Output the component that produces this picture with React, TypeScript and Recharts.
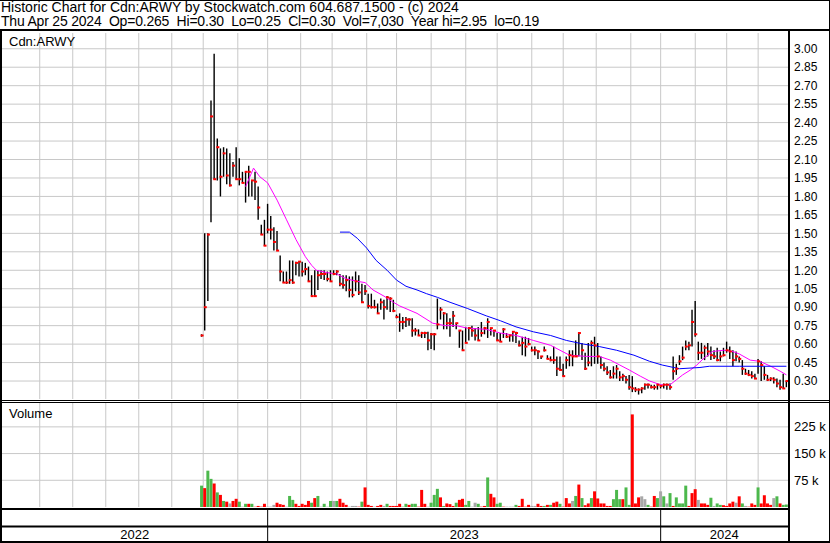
import React from "react";
import {
  Bar,
  BarChart,
  CartesianGrid,
  Cell,
  ComposedChart,
  Line,
  ReferenceLine,
  Scatter,
  XAxis,
  YAxis,
} from "recharts";

const FONT = '"Liberation Sans", Arial, sans-serif';

// x axis is counted in trading sessions from the left edge of the chart
const LAST_SLOT = 500;
const FIRST_DAY = 127;
const DAY_STEP = 2;

const monthStarts = [24, 45, 66, 87, 108, 128, 150, 169, 190, 210, 232, 251, 273, 295, 315, 337, 357, 378, 400, 419, 441, 461, 481];
const yearStarts = [0, 169, 419];
const yearLabels = ["2022", "2023", "2024"];

const priceTicks = [0.3, 0.45, 0.6, 0.75, 0.9, 1.05, 1.2, 1.35, 1.5, 1.65, 1.8, 1.95, 2.1, 2.25, 2.4, 2.55, 2.7, 2.85, 3.0];
const volumeTicks = [75000, 150000, 225000];

const highs = [
  0.68, 1.5, 1.5, 2.58, 2.96, 2.27, 2.19, 2.2, 2.19, 2.15,
  2.08, 2.2, 2.11, 2.0, 2.0, 2.05, 1.93, 2.0, 1.88, 1.57,
  1.61, 1.74, 1.64, 1.55, 1.52, 1.32, 1.19, 1.19, 1.28, 1.28,
  1.27, 1.27, 1.27, 1.26, 1.23, 1.16, 1.2, 1.2, 1.2, 1.2,
  1.19, 1.2, 1.2, 1.2, 1.17, 1.16, 1.16, 1.15, 1.15, 1.19,
  1.16, 1.09, 1.08, 1.01, 1.01, 0.96, 0.93, 0.97, 0.96, 0.99,
  0.98, 0.96, 0.84, 0.85, 0.82, 0.82, 0.81, 0.81, 0.73, 0.72,
  0.7, 0.7, 0.7, 0.69, 0.69, 0.97, 0.9, 0.86, 0.85, 0.81,
  0.87, 0.77, 0.71, 0.71, 0.74, 0.74, 0.75, 0.73, 0.74, 0.78,
  0.74, 0.81, 0.73, 0.71, 0.69, 0.69, 0.73, 0.69, 0.68, 0.7,
  0.7, 0.63, 0.66, 0.66, 0.65, 0.58, 0.58, 0.55, 0.5, 0.58,
  0.51, 0.5, 0.58, 0.5, 0.5, 0.44, 0.5, 0.55, 0.55, 0.63,
  0.69, 0.61, 0.53, 0.61, 0.63, 0.66, 0.61, 0.5, 0.45, 0.42,
  0.39, 0.42, 0.43, 0.38, 0.36, 0.34, 0.35, 0.34, 0.25, 0.24,
  0.25, 0.28, 0.28, 0.27, 0.27, 0.28, 0.27, 0.28, 0.28, 0.28,
  0.5, 0.44, 0.51, 0.58, 0.63, 0.62, 0.88, 0.95, 0.62, 0.61,
  0.59, 0.61, 0.58, 0.55, 0.57, 0.54, 0.57, 0.62, 0.58, 0.55,
  0.54, 0.5, 0.47, 0.4, 0.39, 0.38, 0.36, 0.48, 0.46, 0.42,
  0.35, 0.33, 0.33, 0.32, 0.31, 0.36, 0.3,
];

const lows = [
  0.66, 0.71, 0.95, 1.59, 1.94, 1.93, 1.8, 1.96, 1.9, 1.88,
  1.96, 1.94, 1.89, 1.91, 1.75, 1.8, 1.8, 1.77, 1.61, 1.49,
  1.4, 1.5, 1.45, 1.36, 1.36, 1.11, 1.1, 1.09, 1.09, 1.09,
  1.16, 1.15, 1.15, 1.16, 1.11, 0.99, 0.99, 1.04, 1.13, 1.12,
  1.11, 1.11, 1.16, 1.16, 1.07, 1.05, 1.03, 0.98, 0.98, 1.03,
  1.0, 0.94, 1.0, 0.89, 0.89, 0.89, 0.85, 0.88, 0.8, 0.88,
  0.86, 0.86, 0.81, 0.7, 0.72, 0.74, 0.75, 0.66, 0.67, 0.67,
  0.65, 0.65, 0.55, 0.56, 0.55, 0.72, 0.8, 0.72, 0.72, 0.66,
  0.74, 0.72, 0.57, 0.55, 0.61, 0.63, 0.66, 0.63, 0.63, 0.66,
  0.68, 0.65, 0.67, 0.66, 0.63, 0.62, 0.65, 0.65, 0.62, 0.62,
  0.61, 0.58, 0.51, 0.5, 0.59, 0.54, 0.51, 0.48, 0.48, 0.54,
  0.48, 0.46, 0.44, 0.34, 0.39, 0.34, 0.4, 0.42, 0.42, 0.5,
  0.5, 0.47, 0.39, 0.42, 0.42, 0.44, 0.44, 0.4, 0.38, 0.35,
  0.32, 0.32, 0.32, 0.3, 0.3, 0.28, 0.23, 0.21, 0.21, 0.19,
  0.2, 0.23, 0.24, 0.24, 0.23, 0.23, 0.24, 0.24, 0.23, 0.23,
  0.31, 0.35, 0.43, 0.47, 0.55, 0.55, 0.58, 0.66, 0.47, 0.48,
  0.47, 0.5, 0.47, 0.48, 0.46, 0.46, 0.5, 0.53, 0.48, 0.42,
  0.46, 0.45, 0.35, 0.35, 0.34, 0.32, 0.32, 0.36, 0.3, 0.31,
  0.3, 0.3, 0.28, 0.25, 0.23, 0.24, 0.25,
];

const closes = [
  0.67, 0.9, 1.49, 2.45, 1.94, 2.2, 1.96, 2.15, 1.97, 1.89,
  2.05, 1.94, 1.94, 1.91, 2.0, 2.0, 1.93, 1.92, 1.71, 1.49,
  1.4, 1.53, 1.53, 1.43, 1.36, 1.19, 1.1, 1.1, 1.12, 1.1,
  1.26, 1.27, 1.19, 1.21, 1.11, 0.99, 0.99, 1.16, 1.17, 1.17,
  1.13, 1.11, 1.17, 1.19, 1.09, 1.08, 1.12, 1.04, 1.0, 1.11,
  1.02, 0.94, 1.03, 0.91, 0.9, 0.9, 0.85, 0.94, 0.9, 0.98,
  0.97, 0.87, 0.82, 0.78, 0.78, 0.8, 0.8, 0.71, 0.71, 0.67,
  0.69, 0.69, 0.63, 0.68, 0.68, 0.76, 0.88, 0.85, 0.77, 0.77,
  0.83, 0.77, 0.71, 0.55, 0.61, 0.73, 0.71, 0.67, 0.63, 0.69,
  0.73, 0.78, 0.73, 0.71, 0.63, 0.62, 0.72, 0.66, 0.67, 0.7,
  0.69, 0.59, 0.61, 0.58, 0.6, 0.55, 0.55, 0.54, 0.5, 0.55,
  0.48, 0.47, 0.47, 0.4, 0.39, 0.34, 0.47, 0.51, 0.5, 0.5,
  0.69, 0.55, 0.4, 0.45, 0.61, 0.59, 0.5, 0.43, 0.4, 0.37,
  0.33, 0.36, 0.4, 0.33, 0.34, 0.31, 0.25, 0.24, 0.23, 0.23,
  0.24, 0.27, 0.27, 0.25, 0.25, 0.27, 0.26, 0.27, 0.27, 0.25,
  0.38, 0.4, 0.46, 0.49, 0.58, 0.59, 0.78, 0.68, 0.53, 0.53,
  0.57, 0.54, 0.51, 0.5, 0.47, 0.5, 0.51, 0.55, 0.54, 0.47,
  0.5, 0.48, 0.4, 0.36, 0.35, 0.34, 0.32, 0.46, 0.43, 0.35,
  0.31, 0.32, 0.31, 0.28, 0.25, 0.24, 0.3,
];

// thousands of shares
const volumesK = [
  60, 53, 102, 79, 66, 41, 34, 17, 15, 10,
  17, 23, 15, 1, 9, 9, 9, 1, 3, 1,
  9, 1, 1, 6, 12, 8, 6, 1, 31, 20,
  9, 3, 9, 6, 17, 12, 25, 31, 1, 9,
  1, 17, 17, 17, 23, 12, 6, 1, 3, 3,
  1, 15, 55, 6, 3, 1, 3, 6, 3, 9,
  3, 3, 3, 9, 1, 9, 6, 9, 9, 1,
  48, 9, 1, 12, 34, 51, 27, 3, 10, 8,
  3, 12, 20, 23, 6, 17, 1, 12, 9, 1,
  3, 83, 37, 27, 9, 12, 1, 1, 1, 1,
  6, 3, 23, 1, 6, 3, 3, 9, 3, 3,
  6, 6, 12, 15, 9, 1, 25, 10, 17, 31,
  63, 25, 5, 10, 25, 44, 24, 10, 10, 3,
  3, 22, 48, 22, 22, 55, 6, 260, 10, 27,
  30, 22, 6, 1, 31, 25, 44, 30, 10, 39,
  3, 27, 10, 10, 60, 3, 39, 50, 20, 10,
  10, 6, 26, 3, 10, 6, 5, 3, 10, 15,
  12, 30, 10, 3, 1, 10, 6, 55, 10, 33,
  10, 6, 25, 30, 10, 6, 7,
];

// G = up, R = down, Y = unchanged
const volumeTone = [
  "G", "R", "G", "G", "R", "G", "R", "G", "R", "Y",
  "R", "R", "G", "Y", "G", "R", "G", "R", "R", "R",
  "R", "Y", "Y", "Y", "R", "R", "R", "Y", "G", "G",
  "R", "R", "R", "R", "R", "G", "R", "G", "Y", "G",
  "Y", "G", "Y", "G", "R", "R", "R", "Y", "Y", "Y",
  "R", "G", "R", "R", "R", "Y", "R", "R", "Y", "G",
  "R", "R", "R", "R", "G", "G", "R", "G", "G", "R",
  "R", "R", "Y", "G", "G", "G", "R", "G", "R", "R",
  "R", "G", "R", "R", "G", "G", "Y", "Y", "G", "R",
  "R", "G", "R", "R", "G", "G", "R", "Y", "Y", "Y",
  "G", "R", "R", "R", "R", "Y", "Y", "R", "R", "G",
  "R", "G", "R", "R", "G", "R", "R", "R", "Y", "G",
  "R", "G", "R", "R", "G", "R", "R", "R", "R", "R",
  "R", "G", "G", "G", "R", "G", "G", "R", "R", "R",
  "Y", "Y", "G", "R", "R", "G", "Y", "G", "Y", "G",
  "R", "G", "G", "G", "G", "R", "R", "R", "Y", "R",
  "R", "R", "G", "Y", "G", "G", "R", "R", "R", "R",
  "Y", "R", "G", "Y", "R", "R", "R", "G", "R", "R",
  "R", "R", "Y", "G", "R", "G", "G",
];

const fastMaDay = [155, 160, 164, 169, 175, 181, 187, 193, 197, 200, 207, 213, 219, 226, 231, 236, 243, 249, 253, 264, 274, 282, 289, 296, 308, 317, 327, 338, 349, 355, 361, 372, 380, 387, 393, 399, 406, 412, 419, 425, 429, 433, 438, 442, 446, 452, 459, 465, 469, 476, 482, 489, 495, 499];
const fastMaValue = [1.88, 2.03, 1.96, 1.91, 1.77, 1.61, 1.45, 1.31, 1.24, 1.2, 1.18, 1.17, 1.13, 1.11, 1.1, 1.04, 0.99, 0.94, 0.91, 0.85, 0.77, 0.75, 0.75, 0.73, 0.72, 0.69, 0.67, 0.63, 0.59, 0.55, 0.51, 0.5, 0.5, 0.47, 0.43, 0.39, 0.34, 0.3, 0.27, 0.27, 0.31, 0.35, 0.39, 0.43, 0.48, 0.54, 0.55, 0.54, 0.52, 0.47, 0.46, 0.42, 0.38, 0.35];

const slowMaDay = [215, 221, 226, 232, 238, 245, 251, 257, 264, 270, 277, 285, 296, 308, 317, 327, 338, 349, 359, 370, 380, 391, 402, 412, 420, 431, 444, 450, 469, 499];
const slowMaValue = [1.51, 1.51, 1.46, 1.38, 1.28, 1.2, 1.12, 1.07, 1.04, 1.01, 0.98, 0.94, 0.89, 0.83, 0.79, 0.74, 0.7, 0.67, 0.63, 0.6, 0.58, 0.55, 0.51, 0.46, 0.43, 0.4, 0.41, 0.42, 0.42, 0.42];

const titleLine = "Historic Chart for Cdn:ARWY by Stockwatch.com 604.687.1500 - (c) 2024";
const quoteLine = "Thu Apr 25 2024  Op=0.265  Hi=0.30  Lo=0.25  Cl=0.30  Vol=7,030  Year hi=2.95  lo=0.19";

const toneColor: Record<string, string> = { G: "#4cb84c", R: "#ff0000", Y: "#a8a8a8" };

const bars = highs.map((h, i) => ({
  x: FIRST_DAY + i * DAY_STEP,
  hi: h,
  lo: lows[i],
  close: closes[i],
}));
const volumes = volumesK.map((v, i) => ({
  x: FIRST_DAY + i * DAY_STEP,
  v: v * 1000,
  tone: volumeTone[i],
}));
const fastMa = fastMaDay.map((d, i) => ({ x: d, v: fastMaValue[i] }));
const slowMa = slowMaDay.map((d, i) => ({ x: d, v: slowMaValue[i] }));
const yearMarks = yearLabels.map((label, i) => ({
  x: (yearStarts[i] + (yearStarts[i + 1] ?? LAST_SLOT)) / 2,
  y: 0.22,
  label,
}));

const GRID = "#c8c8c8";

const Rule = ({ l, t, w, h }: { l: number; t: number; w: number; h: number }) => (
  <div style={{ position: "absolute", left: l, top: t, width: w, height: h, background: "#000" }} />
);

const CloseMark = (p: any) =>
  p.cx == null || p.cy == null ? null : (
    <rect x={p.cx - 1} y={p.cy - 1} width={3} height={2} fill="#ff0000" />
  );

const YearText = (p: any) => (
  <text x={p.cx} y={p.cy} textAnchor="middle" dominantBaseline="central" fontSize={13} fontFamily={FONT} fill="#000">
    {p.payload.label}
  </text>
);

export default function App() {
  return (
    <div
      style={{
        position: "absolute",
        left: 0,
        top: 0,
        width: 830,
        height: 543,
        background: "#fff",
        fontFamily: FONT,
        color: "#000",
        overflow: "hidden",
      }}
    >
      <div style={{ position: "absolute", left: 1, top: 1, fontSize: 14, lineHeight: "13px", whiteSpace: "pre" }}>
        {titleLine}
      </div>
      <div
        style={{
          position: "absolute",
          left: 1,
          top: 15,
          fontSize: 14,
          lineHeight: "13px",
          whiteSpace: "pre",
          letterSpacing: "-0.2px",
        }}
      >
        {quoteLine}
      </div>

      {/* price panel */}
      <div style={{ position: "absolute", left: 0, top: 31 }}>
        <ComposedChart width={830} height={369} data={bars} margin={{ top: 2, right: 0, bottom: 1, left: 2 }}>
          <CartesianGrid stroke={GRID} horizontalValues={priceTicks} verticalValues={monthStarts} />
          <XAxis type="number" dataKey="x" domain={[0, LAST_SLOT]} allowDataOverflow hide />
          <YAxis
            orientation="right"
            width={42}
            domain={[0.154, 3.128]}
            allowDataOverflow
            ticks={priceTicks}
            interval={0}
            tickFormatter={(v) => Number(v).toFixed(2)}
            axisLine={false}
            tickLine={false}
            tickSize={4}
            tickMargin={2}
            tick={{ fill: "#000", fontSize: 12, fontFamily: FONT }}
          />
          <Bar dataKey={(d: any) => [d.lo, d.hi]} fill="#000" barSize={2} isAnimationActive={false} />
          <Line data={fastMa} dataKey="v" stroke="#ff00ff" strokeWidth={1} dot={false} isAnimationActive={false} />
          <Line data={slowMa} dataKey="v" stroke="#0000ff" strokeWidth={1} dot={false} isAnimationActive={false} />
          <Scatter data={bars} dataKey="close" shape={CloseMark} isAnimationActive={false} />
        </ComposedChart>
      </div>
      <div style={{ position: "absolute", left: 9, top: 35, fontSize: 13, lineHeight: "13px" }}>Cdn:ARWY</div>

      {/* volume panel */}
      <div style={{ position: "absolute", left: 0, top: 402 }}>
        <BarChart width={830} height={105} data={volumes} margin={{ top: 1, right: 0, bottom: 0, left: 2 }}>
          <CartesianGrid stroke={GRID} horizontalValues={volumeTicks} verticalValues={monthStarts} />
          <XAxis type="number" dataKey="x" domain={[0, LAST_SLOT]} allowDataOverflow hide />
          <YAxis
            orientation="right"
            width={42}
            domain={[0, 292000]}
            allowDataOverflow
            ticks={volumeTicks}
            interval={0}
            tickFormatter={(v) => `${Number(v) / 1000} k`}
            axisLine={false}
            tickLine={false}
            tickSize={4}
            tickMargin={2}
            tick={{ fill: "#000", fontSize: 13, fontFamily: FONT }}
          />
          <Bar dataKey="v" barSize={3} isAnimationActive={false}>
            {volumes.map((d, i) => (
              <Cell key={i} fill={toneColor[d.tone]} />
            ))}
          </Bar>
        </BarChart>
      </div>
      <div style={{ position: "absolute", left: 9, top: 407, fontSize: 13, lineHeight: "13px" }}>Volume</div>

      {/* year band */}
      <div style={{ position: "absolute", left: 0, top: 510 }}>
        <ComposedChart width={830} height={31} data={yearMarks} margin={{ top: 0, right: 42, bottom: 0, left: 2 }}>
          <XAxis type="number" dataKey="x" domain={[0, LAST_SLOT]} allowDataOverflow hide />
          <YAxis type="number" domain={[0, 1]} allowDataOverflow hide />
          <ReferenceLine y={0.47} stroke="#000" strokeWidth={2} />
          {yearStarts.slice(1).map((d) => (
            <ReferenceLine key={d} x={d} stroke="#000" strokeWidth={1} />
          ))}
          <Scatter dataKey="y" shape={YearText} isAnimationActive={false} />
        </ComposedChart>
      </div>

      <Rule l={0} t={0} w={830} h={1} />
      <Rule l={0} t={29} w={830} h={2} />
      <Rule l={0} t={31} w={2} h={512} />
      <Rule l={788} t={31} w={2} h={512} />
      <Rule l={829} t={0} w={1} h={543} />
      <Rule l={0} t={400} w={830} h={1} />
      <Rule l={0} t={402} w={830} h={1} />
      <Rule l={0} t={508} w={790} h={2} />
      <Rule l={0} t={541} w={830} h={2} />
    </div>
  );
}
